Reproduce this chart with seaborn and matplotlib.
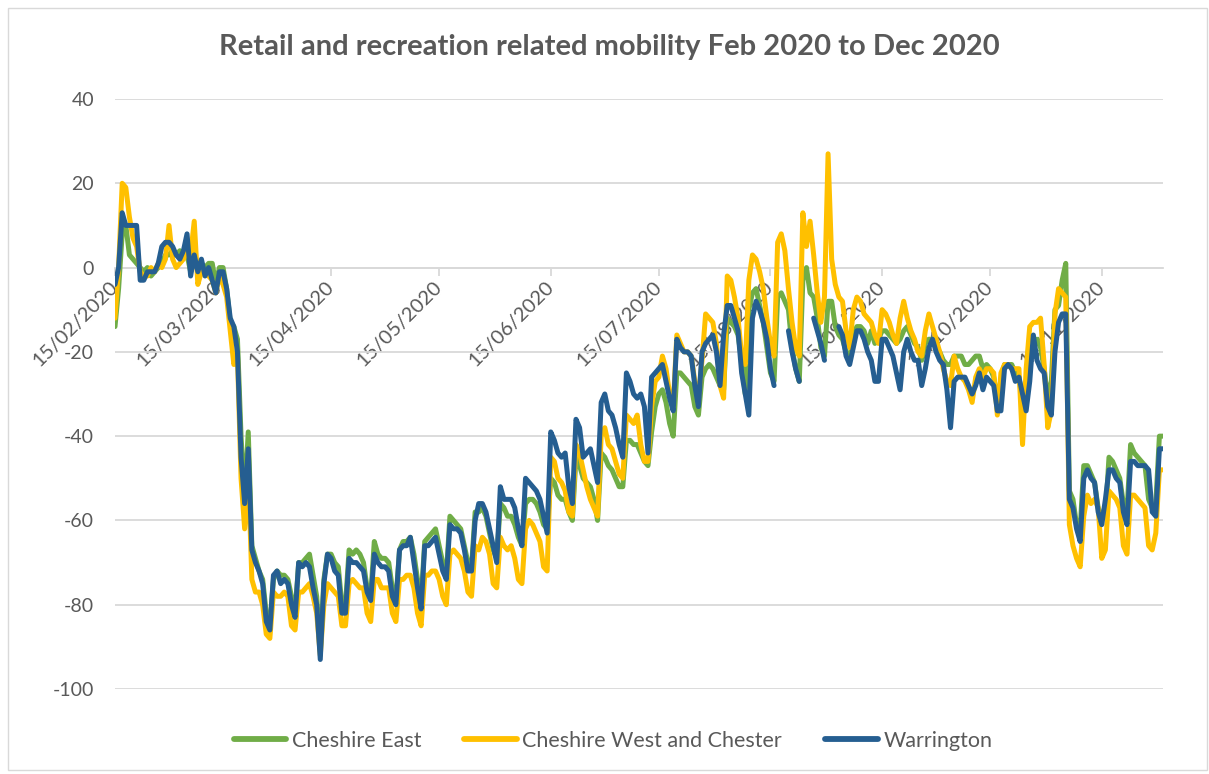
import numpy as np
import pandas as pd
import matplotlib
matplotlib.use("Agg")
import matplotlib.pyplot as plt
from matplotlib.lines import Line2D
from matplotlib.patches import Rectangle
import seaborn as sns

# ---------------- data ----------------
start_date = "2020-02-15"
title = "Retail and recreation related mobility Feb 2020 to Dec 2020"
series_names = ["Cheshire East", "Cheshire West and Chester", "Warrington"]
tick_labels = ["15/02/2020", "15/03/2020", "15/04/2020", "15/05/2020", "15/06/2020",
               "15/07/2020", "15/08/2020", "15/09/2020", "15/10/2020", "15/11/2020"]
y_ticks = [-100, -80, -60, -40, -20, 0, 20, 40]
nan = np.nan

cheshire_east = [
    -14, -5, 8, 10, 3, 2, 1,
    0, -1, 0, -2, -1, 0, 1,
    3, 3, 4, 3, 4, 3, 3,
    -1, 2, 1, 1, 0, 1, 1,
    -4, 0, 0, -5, -13, -14, -17,
    -40, -55, -39, -66, -69, -72, -74,
    -82, -85, -74, -72, -73, -73, -74,
    -78, -82, -70, -70, -69, -68, -73,
    -78, -91, -74, -68, -68, -70, -71,
    -80, -80, -67, -68, -67, -68, -70,
    -76, -78, -65, -68, -69, -69, -70,
    -76, -79, -67, -65, -65, -64, -68,
    -74, -79, -65, -64, -63, -62, -66,
    -70, -73, -59, -60, -61, -62, -66,
    -70, -71, -58, -58, -57, -59, -63,
    -67, -69, -56, -57, -59, -59, -61,
    -64, -66, -56, -55, -55, -56, -58,
    -61, -62, -50, -51, -54, -55, -55,
    -58, -60, -45, -47, -50, -51, -52,
    -55, -60, -44, -45, -47, -48, -50,
    -52, -52, -41, -41, -42, -42, -44,
    -46, -47, -39, -33, -30, -29, -32,
    -37, -40, -25, -25, -26, -27, -28,
    -33, -35, -26, -24, -23, -24, -26,
    -28, -29, -12, -13, -14, -16, -22,
    -30, -10, -6, -5, -9, -13, -19,
    -25, -27, -7, -6, -8, -10, -19,
    -24, -27, -3, 0, -6, -7, -12,
    -19, -21, -8, -8, -14, -16, -17,
    -20, -22, -16, -14, -14, -15, -18,
    -15, -18, -17, -15, -15, -16, -17,
    -18, -17, -15, -14, -16, -18, -19,
    -22, -18, -17, -17, -19, -20, -22,
    -23, -23, -21, -21, -21, -23, -23,
    -22, -21, -21, -24, -23, -24, -26,
    -31, -27, -23, -23, -23, -25, -26,
    -32, -27, -21, -19, -17, -19, -24,
    -31, -27, -10, -9, -3, 1, -53,
    -55, -61, -62, -47, -47, -49, -51,
    -57, -59, -59, -45, -46, -48, -50,
    -56, -58, -42, -44, -45, -46, -47,
    -55, -57, -56, -40, -40,
]

cheshire_west = [
    -12, 0, 20, 19, 12, 7, 5,
    -1, -2, -2, 0, -1, 1, 0,
    2, 10, 2, 0, 1, 2, 4,
    3, 11, -4, -1, -1, -2, -3,
    -6, -2, -4, -7, -15, -23, -21,
    -50, -62, -48, -74, -77, -77, -80,
    -87, -88, -77, -78, -78, -77, -78,
    -85, -86, -77, -77, -76, -75, -78,
    -82, -92, -80, -75, -76, -77, -78,
    -85, -85, -75, -74, -75, -76, -76,
    -82, -84, -74, -74, -76, -76, -76,
    -82, -84, -74, -74, -73, -73, -76,
    -82, -85, -73, -73, -72, -72, -74,
    -78, -80, -68, -67, -68, -69, -72,
    -77, -78, -66, -67, -64, -65, -68,
    -75, -76, -64, -66, -67, -66, -69,
    -74, -75, -62, -60, -61, -63, -65,
    -71, -72, -45, -46, -50, -51, -53,
    -58, -59, -42, -44, -48, -52, -55,
    -57, -59, -40, -38, -42, -43, -46,
    -49, -50, -35, -36, -37, -35, -42,
    -46, -46, -33, -27, -26, -21, -24,
    -30, -33, -16, -18, -20, -20, -21,
    -27, -31, -22, -11, -12, -13, -18,
    -28, -31, -2, -3, -7, -12, -21,
    -23, -3, 3, 2, -1, -5, -12,
    -18, -21, 6, 8, 4, -5, -13,
    -19, -21, 13, 5, 11, 3, -6,
    -13, -7, 27, 2, -4, -7, -8,
    -15, -19, -10, -7, -8, -11, -12,
    -13, -16, -18, -10, -11, -13, -16,
    -18, -12, -8, -12, -15, -17, -20,
    -21, -15, -11, -14, -17, -20, -24,
    -27, -28, -21, -24, -26, -27, -29,
    -32, -26, -24, -26, -24, -24, -25,
    -35, -25, -23, -23, -24, -24, -24,
    -42, -24, -14, -13, -13, -12, -23,
    -38, -34, -11, -5, -6, -7, -61,
    -66, -69, -71, -59, -54, -56, -55,
    -57, -69, -67, -53, -54, -55, -57,
    -66, -68, -54, -54, -55, -56, -57,
    -66, -67, -63, -48, -48,
]

warrington = [
    -4, 0, 13, 10, 10, 10, 10,
    -3, -3, -1, -1, -1, 1, 5,
    6, 6, 5, 3, 2, 4, 8,
    -2, 3, -1, 2, -2, 0, -3,
    -6, -1, -1, -5, -12, -14, -20,
    -45, -56, -43, -67, -70, -72, -75,
    -84, -86, -73, -72, -75, -74, -75,
    -80, -83, -70, -71, -70, -71, -76,
    -80, -93, -75, -68, -69, -72, -73,
    -82, -82, -69, -70, -70, -71, -72,
    -77, -79, -68, -70, -71, -71, -72,
    -78, -80, -67, -66, -66, -64, -70,
    -76, -81, -66, -66, -65, -64, -68,
    -72, -74, -61, -62, -62, -63, -67,
    -72, -72, -60, -56, -56, -58, -62,
    -66, -70, -52, -55, -55, -55, -57,
    -62, -66, -50, -51, -52, -53, -55,
    -59, -63, -39, -41, -44, -45, -44,
    -52, -56, -36, -38, -45, -44, -43,
    -47, -51, -32, -30, -34, -35, -38,
    -42, -45, -25, -27, -30, -31, -30,
    -33, -44, -26, -25, -24, -23, -27,
    -31, -34, -17, -19, -20, -20, -21,
    -28, -33, -20, -18, -17, -16, -20,
    -28, -16, -9, -9, -12, -15, -25,
    -30, -35, -12, -8, -10, -13, -17,
    -24, -28, nan, nan, nan, -15, -20,
    -24, -27, nan, nan, nan, -12, -15,
    -18, -22, nan, nan, nan, -14, -16,
    -21, -23, -19, -15, -15, -17, -20,
    -22, -27, -27, -17, -17, -19, -21,
    -25, -29, -20, -17, -20, -22, -22,
    -28, -24, -19, -17, -20, -22, -23,
    -29, -38, -27, -26, -26, -26, -28,
    -30, -28, -25, -29, -26, -27, -28,
    -34, -34, -24, -23, -24, -27, -26,
    -30, -34, -27, -16, -22, -24, -25,
    -33, -35, -20, -13, -11, -11, -55,
    -57, -62, -65, -50, -48, -50, -51,
    -58, -61, -55, -48, -48, -50, -51,
    -58, -61, -46, -46, -47, -47, -47,
    -48, -58, -59, -43, -43,
]

colors = ["#70AD47", "#FFC000", "#255E91"]
text_grey = "#595959"
grid_grey = "#D9D9D9"

# ---------------- figure ----------------
sns.set_theme(style="white")
plt.rcParams["font.family"] = ["Lato", "DejaVu Sans"]

W, H = 1209, 774
fig = plt.figure(figsize=(W / 100, H / 100), dpi=100)
ax = fig.add_axes([115 / W, 1 - 689 / H, (1163 - 115) / W, (689 - 99) / H])

dates = pd.date_range(start_date, periods=len(cheshire_east), freq="D")
df = pd.DataFrame({"date": dates,
                   series_names[0]: cheshire_east,
                   series_names[1]: cheshire_west,
                   series_names[2]: warrington})

for name, color in zip(series_names, colors):
    s = df[["date", name]].copy()
    s["seg"] = s[name].isna().cumsum()
    s = s.dropna()
    for _, sub in s.groupby("seg"):
        sns.lineplot(data=sub, x="date", y=name, ax=ax, color=color,
                     linewidth=3.6, zorder=3, legend=False,
                     solid_joinstyle="round", solid_capstyle="round")

ax.set_xlim(dates[0], dates[-1])
ax.set_ylim(-100, 40)
ax.set_yticks(y_ticks)
ax.set_yticklabels([str(v) for v in y_ticks])
ax.yaxis.grid(True, color=grid_grey, linewidth=1.3)
ax.xaxis.grid(False)
ax.set_axisbelow(True)
for sp in ["left", "right", "top"]:
    ax.spines[sp].set_visible(False)
ax.spines["bottom"].set_position(("data", 0))
ax.spines["bottom"].set_color(grid_grey)
ax.spines["bottom"].set_linewidth(1.3)

tick_dates = pd.to_datetime(tick_labels, format="%d/%m/%Y")
ax.set_xticks(tick_dates)
ax.set_xticklabels(tick_labels, rotation=45, ha="right", va="center",
                   rotation_mode="anchor")
ax.tick_params(axis="x", direction="out", length=6, width=1.3, color=grid_grey,
               labelsize=14.5, labelcolor=text_grey, pad=6, bottom=True)
ax.tick_params(axis="y", length=0, labelsize=14, labelcolor=text_grey, pad=15)
ax.set_xlabel("")
ax.set_ylabel("")

fig.text(0.504, 1 - 47 / H, title, ha="center", va="center",
         fontsize=21, fontweight="bold", color=text_grey)

handles = [Line2D([0], [0], color=c, linewidth=4.2) for c in colors]
fig.legend(handles, series_names, loc="center", bbox_to_anchor=(0.507, 1 - 741 / H),
           ncol=3, frameon=False, fontsize=15.5, handlelength=2.45,
           columnspacing=2.0, handletextpad=0.25, labelcolor=text_grey)

fig.add_artist(Rectangle((8 / W, 1 - 770 / H), 1199 / W, 762 / H,
                         transform=fig.transFigure, fill=False,
                         edgecolor=grid_grey, linewidth=1))

fig.savefig("out.png", dpi=100)
